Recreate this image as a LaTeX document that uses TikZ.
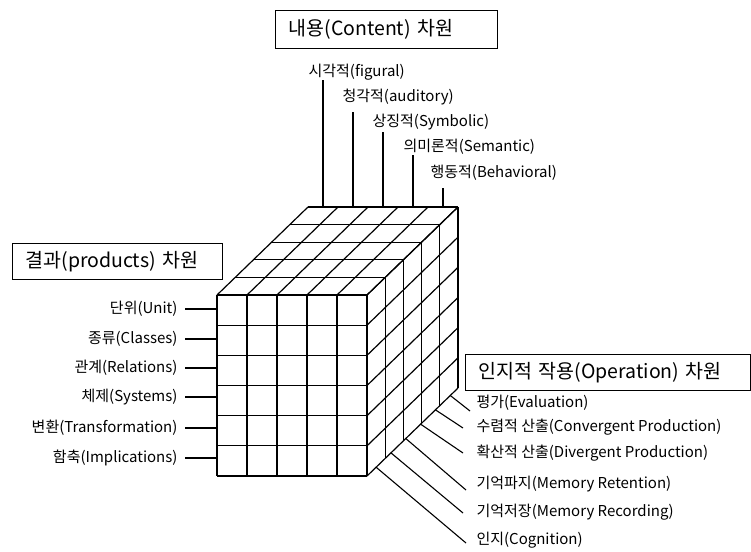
\documentclass[tikz,border=0pt]{standalone}
\usepackage{fontspec}
\setmainfont{Noto Sans CJK KR}
\usetikzlibrary{calc}
\begin{document}
\begin{tikzpicture}[x=1pt,y=-1pt, line width=1.1pt,
  lab/.style={inner sep=0pt, font=\fontsize{15}{18}\selectfont},
  titlebox/.style={draw, line width=1.1pt, inner xsep=13pt, inner ysep=0pt,
    font=\fontsize{19.5}{23}\selectfont, align=left, anchor=north west},
  gridline/.style={line width=1.2pt},
  conn/.style={line width=1.1pt}]
\useasboundingbox (0,0) rectangle (751,551);

% ---------- cube ----------
\coordinate (FTL) at (217,295);
\coordinate (FBR) at (367,476);
\coordinate (BBR) at (458,388);
\coordinate (BTL) at (308,207);
\coordinate (BTR) at (458,207);
% front face
\foreach \i in {0,...,5} \draw[gridline] ({217+30*\i},295) -- ({217+30*\i},476);
\foreach \j in {0,...,6} \draw[gridline] (217,{295+30.17*\j}) -- (367,{295+30.17*\j});
% top face
\foreach \d in {1,...,5} \draw[gridline] ({217+18.2*\d},{295-17.6*\d}) -- ({367+18.2*\d},{295-17.6*\d});
\foreach \i in {0,...,5} \draw[gridline] ({217+30*\i},295) -- ({308+30*\i},207);
% right face
\foreach \d in {1,...,5} \draw[gridline] ({367+18.2*\d},{295-17.6*\d}) -- ({367+18.2*\d},{476-17.6*\d});
\foreach \j in {0,...,6} \draw[gridline] (367,{295+30.17*\j}) -- (458,{207+30.17*\j});

% ---------- titles ----------
\node[titlebox, minimum height=38pt, text width=196pt] (tc) at (275,10) {내용(Content) 차원};
\node[titlebox, minimum height=36pt, text width=184pt] (tp) at (12,243) {결과(products) 차원};
\node[titlebox, minimum height=36pt, text width=259pt] (to) at (465,354) {인지적 작용(Operation) 차원};

% ---------- content ----------
\node[lab, anchor=west] (c1) at (308,71.7) {시각적(figural)};
\node[lab, anchor=west] (c2) at (342,96.7) {청각적(auditory)};
\node[lab, anchor=west] (c3) at (372,121.7) {상징적(Symbolic)};
\node[lab, anchor=west] (c4) at (403,146.7) {의미론적(Semantic)};
\node[lab, anchor=west] (c5) at (430,173) {행동적(Behavioral)};
\coordinate (c1t) at (322,80);  \coordinate (c1b) at ($(BTL)!0.1!(BTR)$);
\coordinate (c2t) at (353,112); \coordinate (c2b) at ($(BTL)!0.3!(BTR)$);
\coordinate (c3t) at (382,132); \coordinate (c3b) at ($(BTL)!0.5!(BTR)$);
\coordinate (c4t) at (413,155); \coordinate (c4b) at ($(BTL)!0.7!(BTR)$);
\coordinate (c5t) at (444,188); \coordinate (c5b) at ($(BTL)!0.9!(BTR)$);
\foreach \k in {1,...,5} \draw[conn] (c\k t -| c\k b) -- (c\k b);

% ---------- products ----------
\node[lab, anchor=east] (p1) at (178,309) {단위(Unit)};
\node[lab, anchor=east] (p2) at (178,339) {종류(Classes)};
\node[lab, anchor=east] (p3) at (178,368) {관계(Relations)};
\node[lab, anchor=east] (p4) at (178,397) {체제(Systems)};
\node[lab, anchor=east] (p5) at (178,428) {변환(Transformation)};
\node[lab, anchor=east] (p6) at (178,458) {함축(Implications)};
\foreach \k in {1,...,6} \draw[conn] ([xshift=7pt]p\k.east) -- (p\k.east -| FTL);

% ---------- operation ----------
\node[lab, anchor=west] (o1) at (476,403) {평가(Evaluation)};
\node[lab, anchor=west] (o2) at (476,427) {수렴적 산출(Convergent Production)};
\node[lab, anchor=west] (o3) at (476,453) {확산적 산출(Divergent Production)};
\node[lab, anchor=west] (o4) at (476,484) {기억파지(Memory Retention)};
\node[lab, anchor=west] (o5) at (476,512) {기억저장(Memory Recording)};
\node[lab, anchor=west] (o6) at (476,540) {인지(Cognition)};
\coordinate (o1s) at ($(FBR)!0.915!(BBR)$); \coordinate (o1e) at (470,411);
\coordinate (o2s) at ($(FBR)!0.752!(BBR)$); \coordinate (o2e) at (463,428);
\coordinate (o3s) at ($(FBR)!0.589!(BBR)$); \coordinate (o3e) at (463,453);
\coordinate (o4s) at ($(FBR)!0.426!(BBR)$); \coordinate (o4e) at (466,490);
\coordinate (o5s) at ($(FBR)!0.263!(BBR)$); \coordinate (o5e) at (463,513);
\coordinate (o6s) at ($(FBR)!0.100!(BBR)$); \coordinate (o6e) at (466,543);
\foreach \k in {1,...,6} \draw[conn] (o\k s) -- (o\k e);
\end{tikzpicture}
\end{document}
